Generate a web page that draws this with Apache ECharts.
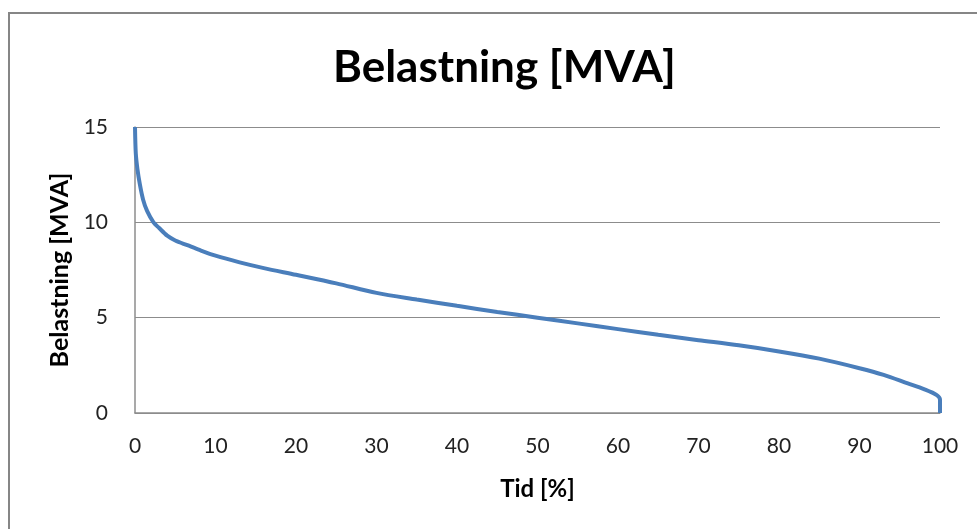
<!DOCTYPE html>
<html><head><meta charset="utf-8">
<script src="https://cdn.jsdelivr.net/npm/echarts@6/dist/echarts.min.js"></script>
<style>html,body{margin:0;padding:0;background:#fff}#c{width:977px;height:529px}</style>
</head><body><div id="c"></div>
<script>
const titleText = "Belastning [MVA]";
const xName = "Tid [%]";
const yName = "Belastning [MVA]";
const timePct = [0, 0.1, 0.3, 0.6, 1.0, 1.5, 2.3, 3, 4, 5, 6.5, 8, 10, 13, 16, 20, 25, 30, 35, 40, 45, 50, 55, 60, 65, 70, 75, 80, 85, 90, 93, 96, 98, 99.6, 100, 100];
const loadMVA = [15, 13.6, 12.8, 12.0, 11.2, 10.6, 10.0, 9.7, 9.3, 9.05, 8.8, 8.55, 8.25, 7.9, 7.6, 7.25, 6.8, 6.3, 5.95, 5.62, 5.3, 5.0, 4.7, 4.4, 4.1, 3.82, 3.55, 3.23, 2.85, 2.35, 2.0, 1.55, 1.25, 0.94, 0.7, 0];
const xTicks = {min: 0, max: 100, interval: 10};
const yTicks = {min: 0, max: 15, interval: 5};

const chart = echarts.init(document.getElementById('c'), null, {renderer: 'canvas'});
const font = "Lato, 'Open Sans', sans-serif";
chart.setOption({
  animation: false,
  backgroundColor: '#fff',
  title: {text: titleText, left: 328, top: 41,
    textStyle: {fontFamily: font, fontWeight: 'bold', fontSize: 44, color: '#000'}},
  graphic: [{type: 'rect', shape: {x: 9, y: 13, width: 1000, height: 600},
    style: {fill: 'none', stroke: '#868686', lineWidth: 2}, silent: true}],
  grid: {left: 135, right: 37, top: 127, bottom: 116},
  xAxis: {type: 'value', min: xTicks.min, max: xTicks.max, interval: xTicks.interval,
    name: xName, nameLocation: 'middle', nameGap: 64,
    nameTextStyle: {fontFamily: font, fontWeight: 'bold', fontSize: 24, color: '#000'},
    axisLine: {lineStyle: {color: '#8c8c8c', width: 1.5}},
    axisTick: {show: false}, splitLine: {show: false},
    axisLabel: {fontFamily: font, fontSize: 21, color: '#222', margin: 23}},
  yAxis: {type: 'value', min: yTicks.min, max: yTicks.max, interval: yTicks.interval,
    name: yName, nameLocation: 'middle', nameGap: 61, nameRotate: 90,
    nameTextStyle: {fontFamily: font, fontWeight: 'bold', fontSize: 25, color: '#000'},
    axisLine: {show: true, lineStyle: {color: '#8c8c8c', width: 1.5}},
    axisTick: {show: false},
    splitLine: {lineStyle: {color: '#8c8c8c', width: 1.2}},
    axisLabel: {fontFamily: font, fontSize: 21, color: '#222', margin: 27}},
  series: [{type: 'line', data: timePct.map((t, i) => [t, loadMVA[i]]),
    showSymbol: false, smooth: 0.3,
    lineStyle: {color: '#4a7ebb', width: 4}, itemStyle: {color: '#4a7ebb'}}]
});
</script></body></html>
